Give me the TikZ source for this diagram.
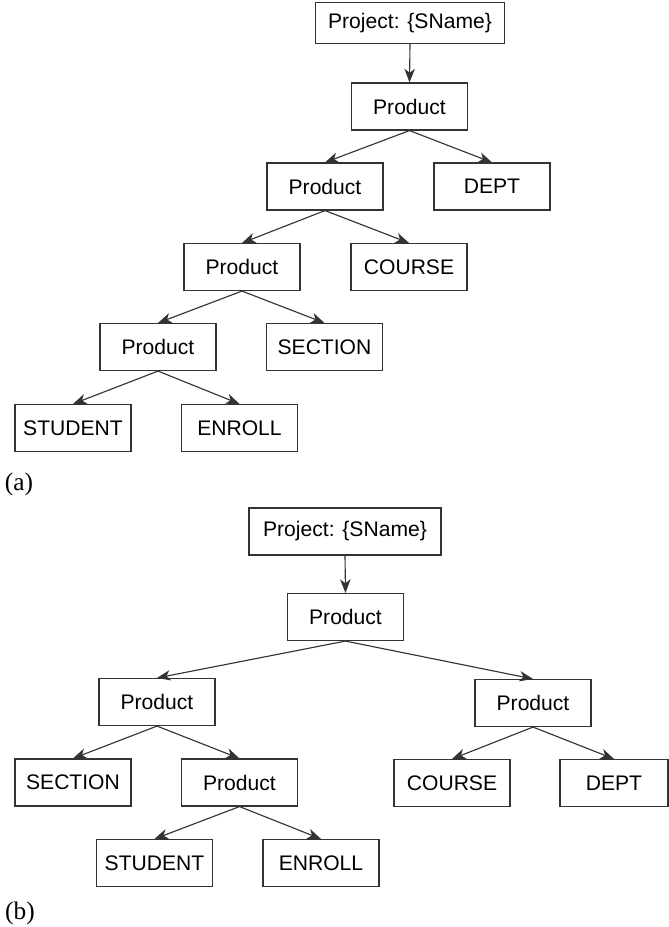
\documentclass[tikz,border=0pt]{standalone}
\usepackage{fontspec}
\setmainfont{Liberation Sans}
\newfontfamily\capfont{Liberation Serif}
\usetikzlibrary{arrows.meta}

\begin{document}
\begin{tikzpicture}[x=0.025cm,y=-0.025cm,
  every node/.style={draw=black!80,line width=0.8pt,minimum width=2.9cm,minimum height=1.175cm,inner sep=0pt,font=\fontsize{15}{18}\selectfont},
  link/.style={draw=black!80,line width=0.8pt,-{Stealth[length=3.4mm,width=2.6mm,inset=1mm]}},
  tag/.style={draw=none,minimum width=0pt,minimum height=0pt,font=\capfont\fontsize{18}{21}\selectfont}]
\useasboundingbox (0,0) rectangle (669,927);
% (a)
\node[minimum width=4.725cm,minimum height=1.025cm] (pa) at (410,23) {Project: \{SName\}};
\foreach \id/\x/\y/\lab in {a1/409.5/106.5/Product,a2/325/186.5/Product,a3/242/267/Product,a4/158/347/Product,da/492/186.5/DEPT,ca/409/267/COURSE,sa/324.5/347/SECTION,ta/73/428/STUDENT,ea/239.5/428/ENROLL} {
  \node (\id) at (\x,\y) {\lab};
}
\foreach \p/\c in {pa/a1,a1/a2,a1/da,a2/a3,a2/ca,a3/a4,a3/sa,a4/ta,a4/ea} {
  \draw[link] (\p.south) -- (\c.north);
}
\node[tag] (la) at (19,484) {(a)};
% (b)
\node[minimum width=4.8cm] (pb) at (345,531.5) {Project: \{SName\}};
\foreach \id/\x/\y/\lab in {b1/345.5/617/Product,b2/157/702/Product,b3/533/703/Product,sb/73/782.5/SECTION,b4/239.5/782.5/Product,cb/452/783/COURSE,tb/154.5/863/STUDENT,eb/321/863/ENROLL} {
  \node (\id) at (\x,\y) {\lab};
}
\node[minimum width=2.7cm] (db) at (614,783) {DEPT};
\foreach \p/\c in {pb/b1,b1/b2,b1/b3,b2/sb,b2/b4,b3/cb,b3/db,b4/tb,b4/eb} {
  \draw[link] (\p.south) -- (\c.north);
}
\node[tag] (lb) at (20,913) {(b)};
\end{tikzpicture}
\end{document}
